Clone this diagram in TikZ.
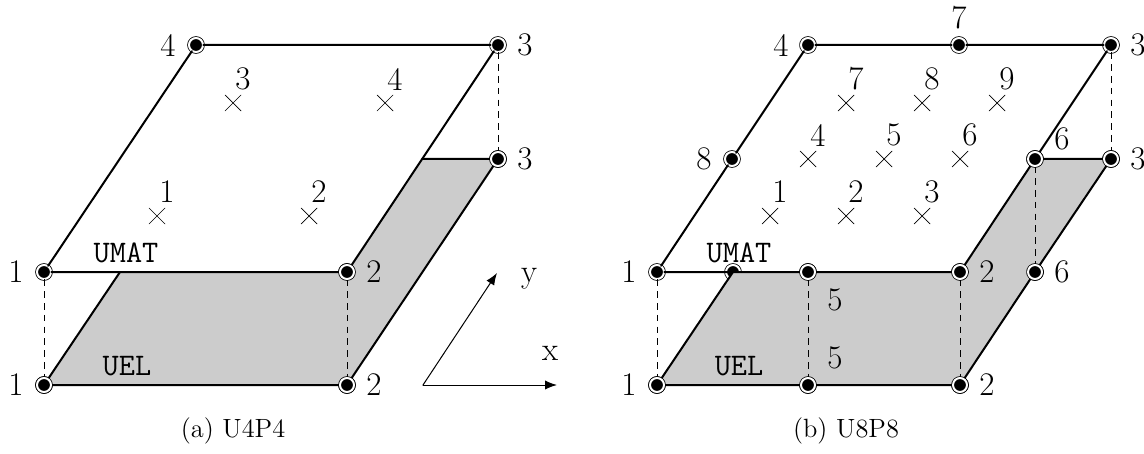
\documentclass[tikz,border=0pt]{standalone}
\usetikzlibrary{shapes.misc,arrows.meta}
\begin{document}
\begin{tikzpicture}[x=0.5pt,y=-0.5pt,
  line cap=round,line join=round,
  every node/.style={font=\fontsize{16.5}{20}\selectfont},
  L/.style={line width=1pt},
  d/.style={line width=.45pt,dash pattern=on 3.3pt off 2.6pt,line cap=butt},
  a/.style={line width=.5pt,-{Latex[length=6pt,width=4.6pt]}},
  s/.style={fill=black!20,draw=none},
  v/.style={draw,fill=black,circle,line width=.4pt,double=white,double distance=1pt,minimum size=7pt,inner sep=0pt},
  g/.style={draw,cross out,line width=.35pt,minimum size=8pt,inner sep=0pt,outer sep=0pt},
  t/.style={font=\fontsize{15.7}{18}\selectfont\ttfamily},
  c/.style={font=\fontsize{13.2}{16}\selectfont}]
  \useasboundingbox (0,0) rectangle (1144,454);

  %% ---- left plate: U4P4
  \coordinate (ac1) at (120,272);
  \coordinate (ac2) at (422,159);
  \node[v] (al1) at (44,385) {};
  \node[v] (al2) at (347,385) {};
  \node[v] (al3) at (498,159) {};
  \node[v] (au1) at (44,272) {};
  \node[v] (au2) at (347,272) {};
  \node[v] (au3) at (498,45) {};
  \node[v] (au4) at (196,45) {};
  % shaded part of the lower plate
  \path[s] (al1.center) -- (al2.center) -- (al3.center) -- (ac2) -- (au2.center) -- (ac1) -- cycle;
  \draw[L] (au1) -- (au4) -- (au3) -- (au2) -- (au1);
  \draw[L] (al1) -- (al2) -- (al3) -- (ac2);
  \draw[L] (al1) -- (ac1);
  \draw[d] (au1) -- (al1);
  \draw[d] (au2) -- (al2);
  \draw[d] (au3) -- (al3);
  % redrawn so the rings sit on top of the shading
  \node[v] at (al1) {};
  \node[v] at (al2) {};
  \node[v] at (al3) {};
  \node[v] at (au2) {};
  % node numbers
  \node (nal1) at (16,385) {1};
  \node (nal2) at (374,385) {2};
  \node (nal3) at (525,159) {3};
  \node (nau1) at (16,272) {1};
  \node (nau2) at (374,272) {2};
  \node (nau3) at (525,45) {3};
  \node (nau4) at (168,45) {4};
  % integration points
  \node[g] (ag1) at (157,216) {};
  \node[g] (ag2) at (309,216) {};
  \node[g] (ag3) at (233,103) {};
  \node[g] (ag4) at (385,103) {};
  \node (nag1) at (167,192) {1};
  \node (nag2) at (319,192) {2};
  \node (nag3) at (243,79) {3};
  \node (nag4) at (395,79) {4};
  \node[t] (umata) at (126,253) {UMAT};
  \node[t] (uela) at (127,366) {UEL};
  \node[c] (capa) at (233,431) {(a) U4P4};

  %% ---- axes
  \coordinate (o) at (423,385);
  \coordinate (ox) at (557,385);
  \coordinate (oy) at (497,273);
  \draw[a] (o) -- (ox);
  \draw[a] (o) -- (oy);
  \node (lx) at (550,353) {x};
  \node (ly) at (529,279) {y};

  %% ---- right plate: U8P8
  \coordinate (bc1) at (733,272);
  \node[v] (bh) at (733,272) {};
  \coordinate (bc2) at (1035,159);
  \node[v] (bl1) at (657,385) {};
  \node[v] (bl5) at (808,385) {};
  \node[v] (bl2) at (960,385) {};
  \node[v] (bl6) at (1035,272) {};
  \node[v] (bl3) at (1111,159) {};
  \node[v] (bu1) at (657,272) {};
  \node[v] (bu5) at (808,272) {};
  \node[v] (bu2) at (960,272) {};
  \node[v] (bu6) at (1035,159) {};
  \node[v] (bu3) at (1111,45) {};
  \node[v] (bu7) at (959,45) {};
  \node[v] (bu4) at (808,45) {};
  \node[v] (bu8) at (732,159) {};
  \path[s] (bl1.center) -- (bl2.center) -- (bl3.center) -- (bc2) -- (bu2.center) -- (bc1) -- cycle;
  \draw[L] (bu1) -- (bu8) -- (bu4) -- (bu7) -- (bu3) -- (bu6) -- (bu2) -- (bu5) -- (bu1);
  \draw[L] (bl1) -- (bl5) -- (bl2) -- (bl6) -- (bl3) -- (bu6);
  \draw[L] (bl1) -- (bc1);
  \draw[d] (bu1) -- (bl1);
  \draw[d] (bu5) -- (bl5);
  \draw[d] (bu2) -- (bl2);
  \draw[d] (bu6) -- (bl6);
  \draw[d] (bu3) -- (bl3);
  % redrawn so the rings sit on top of the shading
  \node[v] at (bl1) {};
  \node[v] at (bl5) {};
  \node[v] at (bl2) {};
  \node[v] at (bl6) {};
  \node[v] at (bl3) {};
  \node[v] at (bu5) {};
  \node[v] at (bu2) {};
  \node[v] at (bu6) {};
  % node numbers
  \node (nbl1) at (629,385) {1};
  \node (nbl5) at (835,358) {5};
  \node (nbl2) at (987,385) {2};
  \node (nbl6) at (1062,272) {6};
  \node (nbl3) at (1138,159) {3};
  \node (nbu1) at (629,272) {1};
  \node (nbu5) at (835,300) {5};
  \node (nbu2) at (987,272) {2};
  \node (nbu6) at (1062,139) {6};
  \node (nbu3) at (1138,45) {3};
  \node (nbu7) at (959,18) {7};
  \node (nbu4) at (781,45) {4};
  \node (nbu8) at (704,159) {8};
  % integration points
  \node[g] (bg1) at (770,216) {};
  \node[g] (bg2) at (846,216) {};
  \node[g] (bg3) at (922,216) {};
  \node[g] (bg4) at (808,159) {};
  \node[g] (bg5) at (884,159) {};
  \node[g] (bg6) at (960,159) {};
  \node[g] (bg7) at (846,103) {};
  \node[g] (bg8) at (922,103) {};
  \node[g] (bg9) at (997,103) {};
  \node (nbg1) at (780,192) {1};
  \node (nbg2) at (856,192) {2};
  \node (nbg3) at (932,192) {3};
  \node (nbg4) at (818,135) {4};
  \node (nbg5) at (894,135) {5};
  \node (nbg6) at (970,135) {6};
  \node (nbg7) at (856,79) {7};
  \node (nbg8) at (932,79) {8};
  \node (nbg9) at (1007,79) {9};
  \node[t] (umatb) at (739,253) {UMAT};
  \node[t] (uelb) at (739,366) {UEL};
  \node[c] (capb) at (846,431) {(b) U8P8};
\end{tikzpicture}
\end{document}
